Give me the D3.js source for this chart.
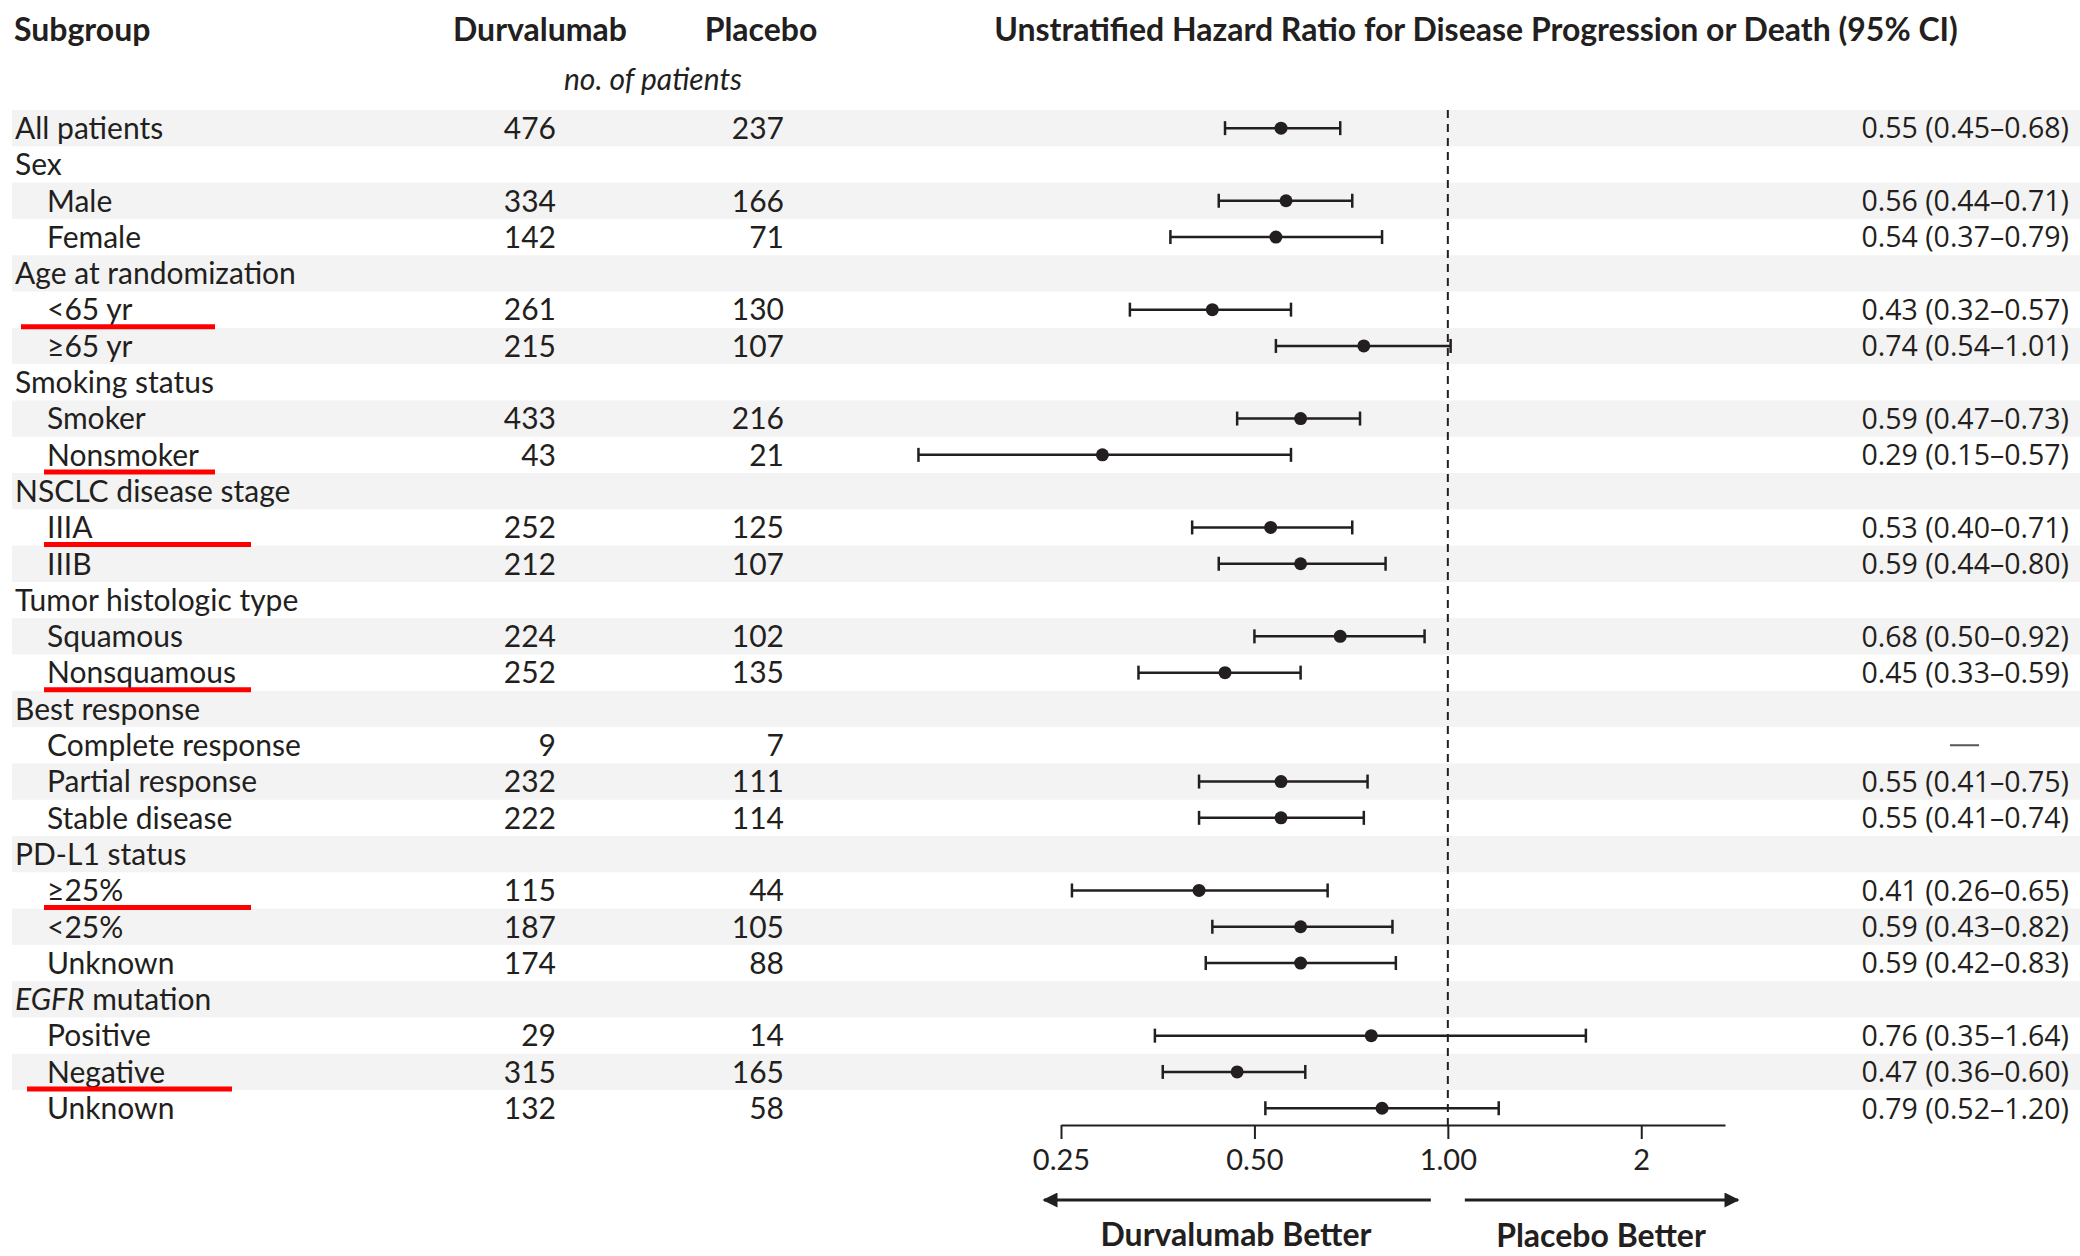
<!DOCTYPE html>
<html>
<head>
<meta charset="utf-8">
<script src="https://cdn.jsdelivr.net/npm/d3@7"></script>
<style>
  body { margin: 0; background: #fff; }
  svg { display: block; }
  .lbl { font-family: Lato, "Open Sans", sans-serif; font-size: 30px; fill: #231f20; }
  .hdr { font-family: Lato, "Open Sans", sans-serif; font-size: 32px; font-weight: bold; fill: #231f20; }
  .hrt { font-family: "Open Sans", "DejaVu Sans", sans-serif; font-size: 28.5px; fill: #231f20; }
  .axis text { font-family: Lato, "Open Sans", sans-serif; font-size: 29px; fill: #231f20; }
  .axis path, .axis line { stroke: #231f20; stroke-width: 2; }
</style>
</head>
<body>
<script>
// rows of the table, top to bottom
let subgroups = ["All patients", "Sex", "Male", "Female", "Age at randomization", "<65 yr", "≥65 yr",
  "Smoking status", "Smoker", "Nonsmoker", "NSCLC disease stage", "IIIA", "IIIB",
  "Tumor histologic type", "Squamous", "Nonsquamous", "Best response", "Complete response",
  "Partial response", "Stable disease", "PD-L1 status", "≥25%", "<25%", "Unknown",
  "EGFR mutation", "Positive", "Negative", "Unknown"];
let indented = [0, 0, 1, 1, 0, 1, 1, 0, 1, 1, 0, 1, 1, 0, 1, 1, 0, 1, 1, 1, 0, 1, 1, 1, 0, 1, 1, 1];

// no. of patients
let durvalumab = [476, null, 334, 142, null, 261, 215, null, 433, 43, null, 252, 212, null, 224, 252,
  null, 9, 232, 222, null, 115, 187, 174, null, 29, 315, 132];
let placebo = [237, null, 166, 71, null, 130, 107, null, 216, 21, null, 125, 107, null, 102, 135,
  null, 7, 111, 114, null, 44, 105, 88, null, 14, 165, 58];

// hazard ratio with 95% CI
let hr = [0.55, null, 0.56, 0.54, null, 0.43, 0.74, null, 0.59, 0.29, null, 0.53, 0.59, null, 0.68, 0.45,
  null, null, 0.55, 0.55, null, 0.41, 0.59, 0.59, null, 0.76, 0.47, 0.79];
let lower = [0.45, null, 0.44, 0.37, null, 0.32, 0.54, null, 0.47, 0.15, null, 0.40, 0.44, null, 0.50, 0.33,
  null, null, 0.41, 0.41, null, 0.26, 0.43, 0.42, null, 0.35, 0.36, 0.52];
let upper = [0.68, null, 0.71, 0.79, null, 0.57, 1.01, null, 0.73, 0.57, null, 0.71, 0.80, null, 0.92, 0.59,
  null, null, 0.75, 0.74, null, 0.65, 0.82, 0.83, null, 1.64, 0.60, 1.20];
// rows with a dash instead of an estimate
let hasDash = [0, 0, 0, 0, 0, 0, 0, 0, 0, 0, 0, 0, 0, 0, 0, 0, 0, 1, 0, 0, 0, 0, 0, 0, 0, 0, 0, 0];

// rows marked with a red underline (row index) and the underline's extent
let underlinedRows = [5, 9, 11, 15, 21, 26];
let underlineX0 = [21, 44, 44, 44, 44, 27];
let underlineX1 = [215, 215, 251, 251, 251, 232];

let tickValues = [0.25, 0.5, 1, 2];
let tickLabels = ["0.25", "0.50", "1.00", "2"];

let width = 2080, height = 1256;

let svg = d3.select("body").append("svg")
  .attr("width", width)
  .attr("height", height);

// row positions
let rows = d3.range(subgroups.length);
let yScale = d3.scaleBand().domain(rows).range([110, 110 + 36.3 * rows.length]);
let yMid = function(i) { return yScale(i) + yScale.bandwidth() / 2; };

// log scale for the hazard ratio
let xScale = d3.scaleLog().domain([0.25, 2.7]).range([1061, 1725]);
let axisY = 1125;

// shaded bands on every other row
svg.selectAll(".band")
    .data(rows.filter(function(i) { return i % 2 === 0; }))
  .enter().append("rect")
    .attr("class", "band")
    .attr("x", 12)
    .attr("width", width - 12)
    .attr("y", function(i) { return yScale(i); })
    .attr("height", yScale.bandwidth())
    .attr("fill", "#f3f3f3");

// headers
let fmt = function(v) { return v.toFixed(2); };
svg.append("text").attr("class", "hdr").attr("x", 14).attr("y", 41).text("Subgroup");
svg.append("text").attr("class", "hdr").attr("x", 540).attr("y", 41).attr("text-anchor", "middle").text("Durvalumab");
svg.append("text").attr("class", "hdr").attr("x", 761).attr("y", 41).attr("text-anchor", "middle").text("Placebo");
svg.append("text").attr("class", "lbl").attr("x", 653).attr("y", 90).attr("text-anchor", "middle")
  .style("font-style", "italic").text("no. of patients");
svg.append("text").attr("class", "hdr").attr("x", 1476).attr("y", 41).attr("text-anchor", "middle")
  .text("Unstratified Hazard Ratio for Disease Progression or Death (95% CI)");

// subgroup labels
let labels = svg.selectAll(".sub")
    .data(rows)
  .enter().append("text")
    .attr("class", "lbl sub")
    .attr("x", function(i) { return indented[i] ? 47 : 15; })
    .attr("y", function(i) { return yMid(i); })
    .attr("dy", "0.36em");
labels.each(function(i) {
  let t = d3.select(this);
  if (subgroups[i] === "EGFR mutation") {
    t.append("tspan").style("font-style", "italic").text("EGFR");
    t.append("tspan").text(" mutation");
  } else {
    t.text(subgroups[i]);
  }
});

// patient counts
svg.selectAll(".durva")
    .data(rows.filter(function(i) { return durvalumab[i] !== null; }))
  .enter().append("text")
    .attr("class", "lbl")
    .attr("x", 556).attr("y", function(i) { return yMid(i); })
    .attr("dy", "0.36em").attr("text-anchor", "end")
    .text(function(i) { return durvalumab[i]; });
svg.selectAll(".plac")
    .data(rows.filter(function(i) { return placebo[i] !== null; }))
  .enter().append("text")
    .attr("class", "lbl")
    .attr("x", 784).attr("y", function(i) { return yMid(i); })
    .attr("dy", "0.36em").attr("text-anchor", "end")
    .text(function(i) { return placebo[i]; });

// HR (95% CI) text
svg.selectAll(".hrtext")
    .data(rows.filter(function(i) { return hr[i] !== null; }))
  .enter().append("text")
    .attr("class", "hrt")
    .attr("x", 2069).attr("y", function(i) { return yMid(i); })
    .attr("dy", "0.36em").attr("text-anchor", "end")
    .text(function(i) { return fmt(hr[i]) + " (" + fmt(lower[i]) + "–" + fmt(upper[i]) + ")"; });
svg.selectAll(".dash")
    .data(rows.filter(function(i) { return hasDash[i]; }))
  .enter().append("line")
    .attr("x1", 1950).attr("x2", 1979)
    .attr("y1", function(i) { return yMid(i); })
    .attr("y2", function(i) { return yMid(i); })
    .attr("stroke", "#555").attr("stroke-width", 2);

// reference line at 1.00
svg.append("line")
  .attr("x1", xScale(1)).attr("x2", xScale(1))
  .attr("y1", yScale(0)).attr("y2", axisY)
  .attr("stroke", "#231f20").attr("stroke-width", 2)
  .attr("stroke-dasharray", "8,6");

// confidence intervals
let est = rows.filter(function(i) { return hr[i] !== null; });
let ci = svg.selectAll(".ci")
    .data(est)
  .enter().append("g")
    .attr("class", "ci");
ci.append("line")
  .attr("x1", function(i) { return xScale(lower[i]); })
  .attr("x2", function(i) { return xScale(upper[i]); })
  .attr("y1", function(i) { return yMid(i); })
  .attr("y2", function(i) { return yMid(i); })
  .attr("stroke", "#231f20").attr("stroke-width", 2.5);
ci.append("line")
  .attr("x1", function(i) { return xScale(lower[i]); })
  .attr("x2", function(i) { return xScale(lower[i]); })
  .attr("y1", function(i) { return yMid(i) - 7; })
  .attr("y2", function(i) { return yMid(i) + 7; })
  .attr("stroke", "#231f20").attr("stroke-width", 2.5);
ci.append("line")
  .attr("x1", function(i) { return xScale(upper[i]); })
  .attr("x2", function(i) { return xScale(upper[i]); })
  .attr("y1", function(i) { return yMid(i) - 7; })
  .attr("y2", function(i) { return yMid(i) + 7; })
  .attr("stroke", "#231f20").attr("stroke-width", 2.5);
ci.append("circle")
  .attr("cx", function(i) { return xScale(hr[i]); })
  .attr("cy", function(i) { return yMid(i); })
  .attr("r", 6.5)
  .attr("fill", "#231f20");

// x axis
svg.append("g")
  .attr("class", "axis")
  .attr("transform", "translate(0," + axisY + ")")
  .call(d3.axisBottom(xScale)
    .tickValues(tickValues)
    .tickFormat(function(d, i) { return tickLabels[i]; })
    .tickSizeInner(14).tickSizeOuter(0).tickPadding(10));

// direction arrows
let arrowY = 1200;
svg.append("defs").append("marker")
    .attr("id", "head")
    .attr("viewBox", "0 0 10 10")
    .attr("refX", 9).attr("refY", 5)
    .attr("markerWidth", 8).attr("markerHeight", 5)
    .attr("markerUnits", "strokeWidth")
    .attr("orient", "auto")
  .append("path")
    .attr("d", "M0,0 L10,5 L0,10 Z")
    .attr("fill", "#231f20");
svg.append("line")
  .attr("x1", xScale(1) - 17).attr("x2", xScale(0.25) - 17)
  .attr("y1", arrowY).attr("y2", arrowY)
  .attr("stroke", "#231f20").attr("stroke-width", 3)
  .attr("marker-end", "url(#head)");
svg.append("line")
  .attr("x1", xScale(1) + 17).attr("x2", xScale(2.7) + 13)
  .attr("y1", arrowY).attr("y2", arrowY)
  .attr("stroke", "#231f20").attr("stroke-width", 3)
  .attr("marker-end", "url(#head)");
svg.append("text").attr("class", "hdr").attr("x", 1236).attr("y", 1246)
  .attr("text-anchor", "middle").text("Durvalumab Better");
svg.append("text").attr("class", "hdr").attr("x", 1601).attr("y", 1247)
  .attr("text-anchor", "middle").text("Placebo Better");

// red underlines
svg.selectAll(".ul")
    .data(underlinedRows)
  .enter().append("line")
    .attr("x1", function(d, k) { return underlineX0[k]; })
    .attr("x2", function(d, k) { return underlineX1[k]; })
    .attr("y1", function(i) { return yScale(i) + yScale.bandwidth() - 1; })
    .attr("y2", function(i) { return yScale(i) + yScale.bandwidth() - 1; })
    .attr("stroke", "#ff0000").attr("stroke-width", 5);
</script>
</body>
</html>
